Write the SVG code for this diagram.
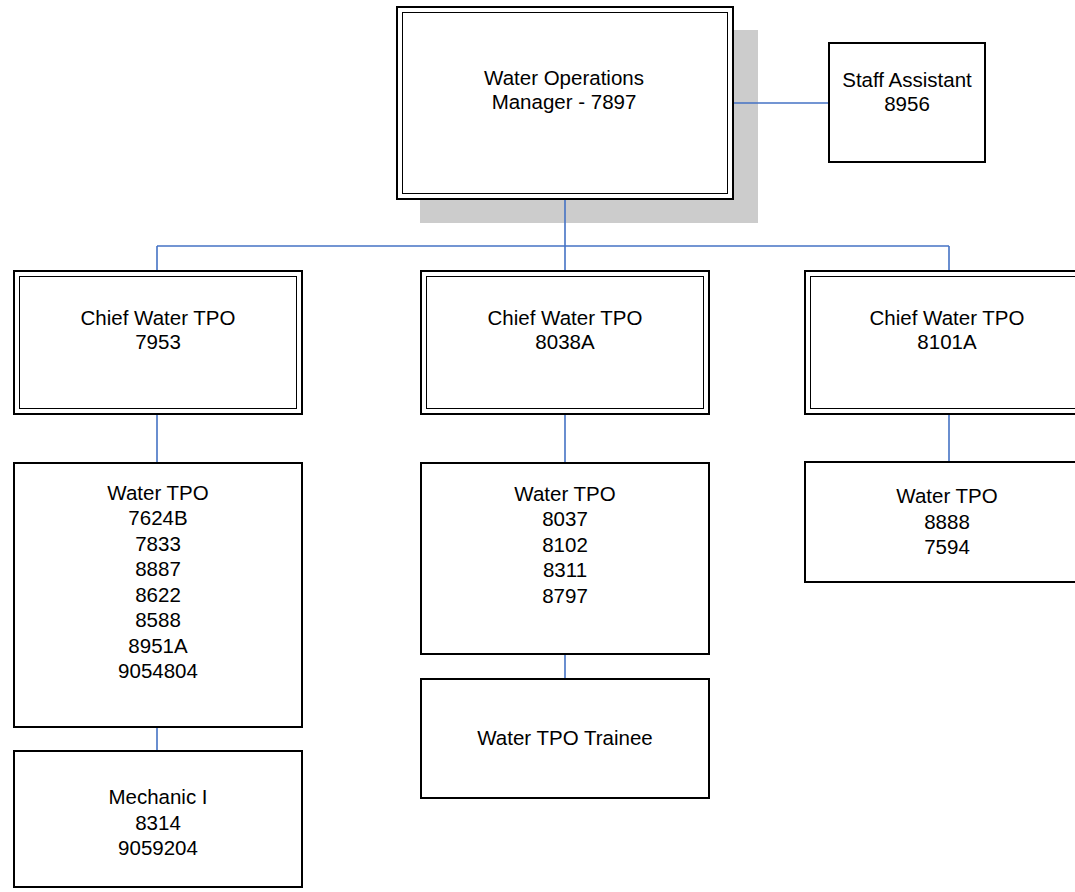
<svg xmlns="http://www.w3.org/2000/svg" width="1075" height="892" viewBox="0 0 1075 892">
<style>
.bg{fill:#ffffff}
.box{fill:#ffffff;stroke:#000000;stroke-width:2}
.inner{fill:none;stroke:#000000;stroke-width:1}
.shadow{fill:#cccccc}
.conn{fill:none;stroke:#4472c4;stroke-width:1.6}
text{font-family:"Liberation Sans",Arial,sans-serif;font-size:20.5px;fill:#000000;text-anchor:middle}
</style>
<rect class="bg" x="0" y="0" width="1075" height="892"/>
<g id="manager">
<rect class="shadow" x="420" y="30" width="338" height="193"/>
<rect class="box" x="397" y="7" width="336" height="192"/>
<rect class="inner" x="402.5" y="12.5" width="325" height="181"/>
<text x="564" y="84.5">Water Operations</text>
<text x="564" y="109">Manager - 7897</text>
</g>
<g id="staff-assistant">
<rect class="box" x="829" y="43" width="156" height="119"/>
<text x="907" y="86.5">Staff Assistant</text>
<text x="907" y="111">8956</text>
</g>
<g id="chief-7953">
<rect class="box" x="14" y="271" width="288" height="143"/>
<rect class="inner" x="19.5" y="276.5" width="277" height="132"/>
<text x="158" y="324.5">Chief Water TPO</text>
<text x="158" y="349">7953</text>
</g>
<g id="chief-8038A">
<rect class="box" x="421" y="271" width="288" height="143"/>
<rect class="inner" x="426.5" y="276.5" width="277" height="132"/>
<text x="565" y="324.5">Chief Water TPO</text>
<text x="565" y="349">8038A</text>
</g>
<g id="chief-8101A">
<rect class="box" x="805" y="271" width="288" height="143"/>
<rect class="inner" x="810.5" y="276.5" width="277" height="132"/>
<text x="947" y="324.5">Chief Water TPO</text>
<text x="947" y="349">8101A</text>
</g>
<g id="water-tpo-left">
<rect class="box" x="14" y="463" width="288" height="264"/>
<text x="158" y="499.5">Water TPO</text>
<text x="158" y="525">7624B</text>
<text x="158" y="550.5">7833</text>
<text x="158" y="576">8887</text>
<text x="158" y="601.5">8622</text>
<text x="158" y="627">8588</text>
<text x="158" y="652.5">8951A</text>
<text x="158" y="678">9054804</text>
</g>
<g id="water-tpo-middle">
<rect class="box" x="421" y="463" width="288" height="191"/>
<text x="565" y="500.5">Water TPO</text>
<text x="565" y="526">8037</text>
<text x="565" y="551.5">8102</text>
<text x="565" y="577">8311</text>
<text x="565" y="602.5">8797</text>
</g>
<g id="water-tpo-right">
<rect class="box" x="805" y="462" width="288" height="120"/>
<text x="947" y="503">Water TPO</text>
<text x="947" y="528.5">8888</text>
<text x="947" y="554">7594</text>
</g>
<g id="mechanic">
<rect class="box" x="14" y="751" width="288" height="136"/>
<text x="158" y="804">Mechanic I</text>
<text x="158" y="829.5">8314</text>
<text x="158" y="855">9059204</text>
</g>
<g id="trainee">
<rect class="box" x="421" y="679" width="288" height="119"/>
<text x="565" y="745">Water TPO Trainee</text>
</g>
<g id="connectors">
<path class="conn" d="M734,103 H828"/>
<path class="conn" d="M565,200 V246"/>
<path class="conn" d="M157,246 H949"/>
<path class="conn" d="M157,246 V270"/>
<path class="conn" d="M565,246 V270"/>
<path class="conn" d="M949,246 V270"/>
<path class="conn" d="M157,415 V462"/>
<path class="conn" d="M565,415 V462"/>
<path class="conn" d="M949,415 V461"/>
<path class="conn" d="M157,728 V750"/>
<path class="conn" d="M565,655 V678"/>
</g>
</svg>
